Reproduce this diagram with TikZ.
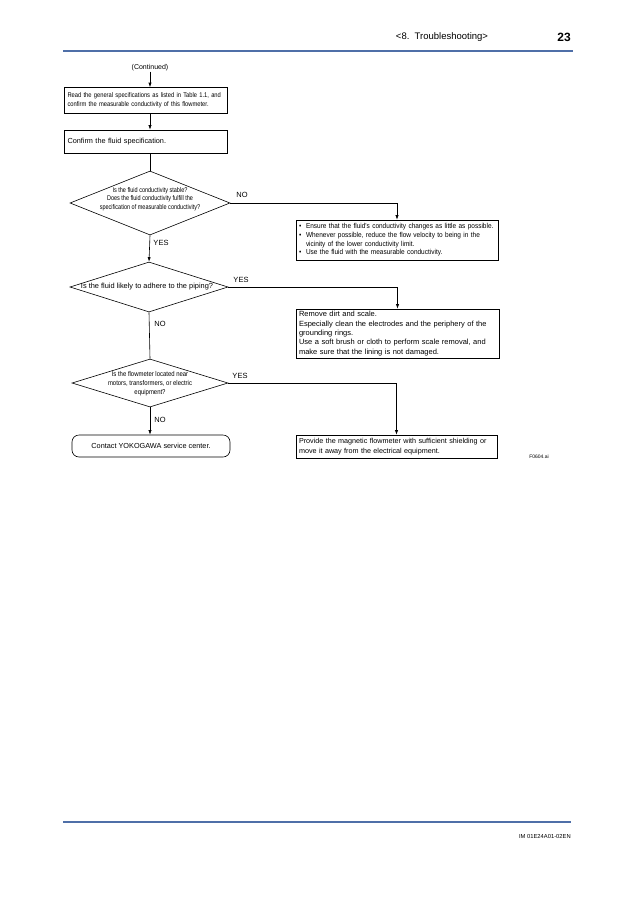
\documentclass[tikz,border=0pt]{standalone}
\usepackage{fontspec}
\setmainfont{Liberation Sans}
\newfontfamily\narA[FakeStretch=0.85]{Liberation Sans}
\newfontfamily\narB[FakeStretch=0.8]{Liberation Sans}
\newfontfamily\narC[FakeStretch=0.9]{Liberation Sans}
\usetikzlibrary{shapes.geometric,arrows.meta}
\definecolor{hdrblue}{RGB}{79,111,168}
\begin{document}
\begin{tikzpicture}[x=1pt,y=-1pt,
  line width=0.6pt,
  arr/.style={-{Latex[length=4.5pt,width=3.2pt]}},
  conn/.style={line width=0.6pt},
  boxA/.style={draw, rectangle, inner xsep=3pt, inner ysep=1.5pt, align=left},
  dia/.style={draw, diamond, inner sep=0pt},
  lbl/.style={font=\fontsize{7.5}{9}\selectfont, inner sep=0pt},
]
\useasboundingbox (0,0) rectangle (638,903);
% header and footer
\node[font=\fontsize{9.5}{11}\selectfont, inner sep=0pt] (hdr) at (442,37) {<8.~~Troubleshooting>};
\node[font=\fontsize{12}{14}\selectfont\bfseries, inner sep=0pt, anchor=east] (pg) at (571,37) {23};
\draw[hdrblue, line width=1.4pt] (63,51) coordinate (hl) -- (573,51) coordinate (hr);
\draw[hdrblue, line width=1.2pt] (63,822) coordinate (fl) -- (571,822) coordinate (fr);
\node[font=\fontsize{5.8}{7}\selectfont, inner sep=0pt, anchor=east] (doc) at (571,836) {IM 01E24A01-02EN};
\node[font=\fontsize{5}{6}\selectfont, inner sep=0pt] (fig) at (539,457) {F0604.ai};

% flow
\node[font=\fontsize{7}{8}\selectfont, inner sep=0pt] (cont) at (150,68) {(Continued)};
\node[boxA, text width=157pt, minimum height=26pt, font=\narA\fontsize{6.8}{8.6}\selectfont] (b1) at (146,100.5)
  {Read the general specifications as listed in Table 1.1, and\\confirm the measurable conductivity of this flowmeter.};
\node[boxA, text width=157pt, minimum height=23pt, font=\fontsize{7.3}{9}\selectfont] (b2) at (146,141.5)
  {Confirm the fluid specification.};

\node[dia, minimum width=160pt, minimum height=64pt] (d1) at (150,203) {};
\node[font=\narB\fontsize{6.9}{8.4}\selectfont, align=center, inner sep=0pt] (t1) at (150,199)
  {Is the fluid conductivity stable?\\Does the fluid conductivity fulfill the\\specification of measurable conductivity?};

\node[dia, minimum width=158pt, minimum height=50pt] (d2) at (149,287) {};
\node[font=\fontsize{7.4}{9}\selectfont, inner sep=0pt] (t2) at (147,287)
  {Is the fluid likely to adhere to the piping?};

\node[dia, minimum width=156pt, minimum height=48pt] (d3) at (150,383) {};
\node[font=\narA\fontsize{7}{8.8}\selectfont, align=center, inner sep=0pt] (t3) at (150,383.5)
  {Is the flowmeter located near\\motors, transformers, or electric\\equipment?};

\node[draw, rounded corners=7pt, minimum width=158pt, minimum height=22pt, inner sep=0pt,
  font=\fontsize{7.3}{9}\selectfont] (end) at (151,446) {Contact YOKOGAWA service center.};

\node[boxA, text width=196pt, minimum height=40pt, font=\narC\fontsize{7.2}{8.6}\selectfont] (b3) at (397,240)
  {\makebox[7pt][l]{•}Ensure that the fluid's conductivity changes as little as possible.\\
   \makebox[7pt][l]{•}Whenever possible, reduce the flow velocity to being in the\\
   \makebox[7pt][l]{}vicinity of the lower conductivity limit.\\
   \makebox[7pt][l]{•}Use the fluid with the measurable conductivity.};
\node[boxA, text width=197pt, minimum height=49pt, font=\fontsize{7.5}{9.3}\selectfont] (b4) at (397.5,333.5)
  {Remove dirt and scale.\\Especially clean the electrodes and the periphery of the\\grounding rings.\\Use a soft brush or cloth to perform scale removal, and\\make sure that the lining is not damaged.};
\node[boxA, text width=195pt, minimum height=23pt, font=\fontsize{7.2}{9.3}\selectfont] (b5) at (396.5,446.5)
  {Provide the magnetic flowmeter with sufficient shielding or\\move it away from the electrical equipment.};

% connectors
\draw[arr] (cont) -- (cont |- b1.north);
\draw[arr] (b1.south -| cont) -- (b2.north -| cont);
\draw[conn] (b2.south -| cont) -- (d1.north);
\draw[arr] (d1.south) -- (d2.north);
\draw[conn] (d2.south) -- (d3.north);
\draw[arr] (d3.south) -- (end.north -| d3.south);
\draw[arr] (d1.east) -| (b3.north);
\draw[arr] (d2.east) -| (b4.north);
\draw[arr] (d3.east) -| (b5.north);

% labels
\node[lbl] (l1) at (242,195) {NO};
\node[lbl] (l2) at (161,243) {YES};
\node[lbl] (l3) at (241,280) {YES};
\node[lbl] (l4) at (160,324) {NO};
\node[lbl] (l5) at (240,376) {YES};
\node[lbl] (l6) at (160,420) {NO};
\end{tikzpicture}
\end{document}
